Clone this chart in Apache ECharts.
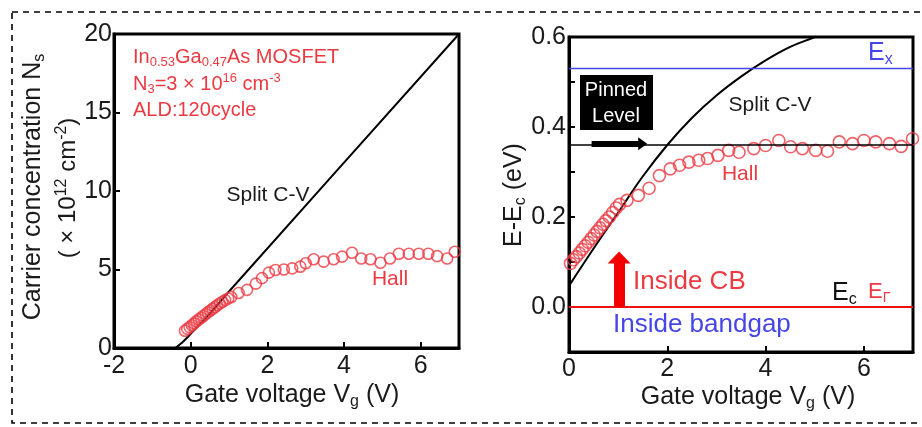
<!DOCTYPE html>
<html><head><meta charset="utf-8">
<script src="https://cdn.jsdelivr.net/npm/echarts@6/dist/echarts.min.js"></script>
<style>html,body{margin:0;padding:0;background:#fff}#c{width:922px;height:427px}</style>
</head><body><div id="c"></div>
<script>
// ---------- data ----------
const leftHallV = [-0.15,-0.09,-0.03,0.03,0.09,0.15,0.21,0.27,0.33,0.39,0.45,0.51,0.57,0.63,0.69,0.76,0.83,0.9,0.98,1.06,1.25,1.47,1.7,1.86,2.04,2.21,2.43,2.65,2.86,3.0,3.21,3.47,3.73,3.95,4.21,4.45,4.69,4.95,5.2,5.43,5.69,5.95,6.2,6.43,6.69,6.89];
const leftHallN = [1.1,1.22,1.33,1.45,1.57,1.7,1.82,1.93,2.04,2.16,2.27,2.38,2.49,2.6,2.72,2.83,2.94,3.05,3.15,3.25,3.5,3.7,4.1,4.45,4.8,4.97,5.0,5.07,5.18,5.4,5.65,5.5,5.65,5.82,6.07,5.7,5.65,5.43,5.7,6.0,6.0,6.0,6.0,5.85,5.7,6.13];
const leftCvV = [-0.4,-0.2,0,0.5,1,7];
const leftCvN = [0,0.4,0.9,2.2,3.6,20];

const rightHallV = [0.03,0.09,0.15,0.21,0.27,0.33,0.39,0.45,0.51,0.57,0.63,0.69,0.75,0.82,0.89,0.96,1.03,1.18,1.41,1.63,1.84,2.06,2.25,2.44,2.64,2.82,3.03,3.25,3.46,3.76,4.0,4.27,4.51,4.75,5.02,5.26,5.5,5.77,6.0,6.24,6.52,6.76,6.99];
const rightHallE = [0.097,0.105,0.112,0.12,0.128,0.136,0.144,0.152,0.16,0.168,0.176,0.184,0.192,0.2,0.21,0.22,0.228,0.237,0.248,0.264,0.292,0.307,0.315,0.322,0.326,0.33,0.337,0.348,0.344,0.352,0.359,0.37,0.356,0.352,0.348,0.346,0.367,0.363,0.37,0.367,0.363,0.357,0.374];
const rightCvV = [0,0.5,1,1.5,2,2.5,3,3.5,4,4.5,5,5.3];
const rightCvE = [0.047,0.13,0.21,0.29,0.36,0.42,0.47,0.512,0.548,0.578,0.6,0.615];

const levelEx = 0.53, levelPinned = 0.363, levelEc = 0.0;
const pinnedArrowV = [0.46, 1.5];       // horizontal black arrow (V) at pinned level
const cbArrowV = 1.02, cbArrowE = [0.0, 0.11]; // red upward arrow

const leftXTicks = [-2,0,2,4,6];
const leftYTicks = [0,5,10,15,20];
const rightXTicks = [0,2,4,6];
const rightYTicks = ['0.0','0.2','0.4','0.6'];

// ---------- styles ----------
const FONT = 'Liberation Sans, Arial, Helvetica, sans-serif';
const RED = '#ec3a42';
const BLUE = '#4646e6';
const INK = '#1a1a1a';
const zip = (a,b) => a.map((v,i)=>[v,b[i]]);

function axisCommon(extra){
  return Object.assign({
    type:'value',
    axisLine:{show:true,onZero:false,lineStyle:{color:'#000',width:3}},
    axisTick:{show:true,inside:true,length:6,lineStyle:{color:'#000',width:2}},
    splitLine:{show:false}
  }, extra);
}

function richText(size, color){
  return {
    a:{fontSize:size,fontFamily:FONT,fill:color,lineHeight:size+4,verticalAlign:'middle'},
    s:{fontSize:Math.round(size*0.65),fontFamily:FONT,fill:color,lineHeight:12,verticalAlign:'bottom'},
    p:{fontSize:Math.round(size*0.65),fontFamily:FONT,fill:color,lineHeight:12,verticalAlign:'top'}
  };
}
function txt(x,y,text,size,color,align,rot,weight){
  return {
    type:'text', x:x, y:y, rotation:rot||0, silent:true,
    style:{text:text, x:0, y:0, fontSize:size, fontFamily:FONT, fill:color,
      fontWeight:weight||'normal',
      textAlign:align||'center', textVerticalAlign:'middle', rich:richText(size,color)}
  };
}

const chart = echarts.init(document.getElementById('c'));
const option = {
  animation:false,
  backgroundColor:'#fff',
  grid:[
    {left:114,top:34,width:345,height:314,show:true,borderColor:'#000',borderWidth:3,backgroundColor:'transparent'},
    {left:569,top:37,width:344,height:315,show:true,borderColor:'#000',borderWidth:3,backgroundColor:'transparent'}
  ],
  xAxis:[
    axisCommon({gridIndex:0,min:-2,max:7,interval:2,
      axisLabel:{fontSize:25,color:INK,fontFamily:FONT,margin:6,
        formatter:v=>leftXTicks.includes(v)?String(v):''}}),
    axisCommon({gridIndex:1,min:0,max:7,interval:2,
      axisLabel:{fontSize:25,color:INK,fontFamily:FONT,margin:5,
        formatter:v=>rightXTicks.includes(v)?String(v):''}})
  ],
  yAxis:[
    axisCommon({gridIndex:0,min:0,max:20,interval:5,
      axisLabel:{fontSize:25,color:INK,fontFamily:FONT,margin:2,
        formatter:v=>leftYTicks.includes(v)?String(v):''}}),
    axisCommon({gridIndex:1,min:-0.1,max:0.6,interval:0.1,
      axisLabel:{fontSize:25,color:INK,fontFamily:FONT,margin:3,
        formatter:v=>{const s=(Math.round(v*10)/10).toFixed(1);return rightYTicks.includes(s)?s:'';}}})
  ],
  series:[
    {type:'line',xAxisIndex:0,yAxisIndex:0,data:zip(leftCvV,leftCvN),showSymbol:false,smooth:0.3,
      lineStyle:{color:'#000',width:2},z:3},
    {type:'scatter',xAxisIndex:0,yAxisIndex:0,data:zip(leftHallV,leftHallN),symbol:'circle',symbolSize:11,
      itemStyle:{color:'rgba(255,255,255,0)',borderColor:RED,borderWidth:1.6},z:4},
    {type:'line',xAxisIndex:1,yAxisIndex:1,data:zip(rightCvV,rightCvE),showSymbol:false,smooth:0.4,
      lineStyle:{color:'#000',width:2},z:3,
      markLine:{silent:true,symbol:'none',label:{show:false},animation:false,
        data:[
          {yAxis:levelEx,lineStyle:{color:BLUE,width:1.4,type:'solid'}},
          {yAxis:levelPinned,lineStyle:{color:'#000',width:1.6,type:'solid'}},
          {yAxis:levelEc,lineStyle:{color:'#f01010',width:1.8,type:'solid'}}
        ]}},
    {type:'line',xAxisIndex:1,yAxisIndex:1,data:[],
      markLine:{silent:true,label:{show:false},animation:false,
        data:[
          [{coord:[pinnedArrowV[0],levelPinned],symbol:'none',lineStyle:{color:'#000',width:6,type:'solid'}},
           {coord:[pinnedArrowV[1],levelPinned],symbol:'triangle',symbolSize:[13,9],itemStyle:{color:'#000'}}],
          [{coord:[cbArrowV,cbArrowE[0]],symbol:'none',lineStyle:{color:'#f40000',width:11,type:'solid'}},
           {coord:[cbArrowV,cbArrowE[1]],symbol:'triangle',symbolSize:[23,12],itemStyle:{color:'#f40000'}}]
        ]}},
    {type:'scatter',xAxisIndex:1,yAxisIndex:1,data:zip(rightHallV,rightHallE),symbol:'circle',symbolSize:12,
      itemStyle:{color:'rgba(255,255,255,0)',borderColor:RED,borderWidth:1.6},z:4}
  ],
  graphic:[
    {type:'rect',silent:true,shape:{x:12,y:12,width:940,height:411},
      style:{fill:'none',stroke:'#000',lineWidth:1.6,lineDash:[6,5]}},
    // left plot texts
    txt(33,187,'{a|Carrier concentration N}{s|s}',25,INK,'center',Math.PI/2),
    txt(68,188,'{a|( × 10}{p|12}{a| cm}{p|-2}{a|)}',24,INK,'center',Math.PI/2),
    txt(292,395,'{a|Gate voltage V}{s|g}{a| (V)}',25,INK,'center'),
    txt(133,57,'{a|In}{s|0.53}{a|Ga}{s|0.47}{a|As MOSFET}',20,RED,'left'),
    txt(133,84,'{a|N}{s|3}{a|=3 × 10}{p|16}{a| cm}{p|-3}',20,RED,'left'),
    txt(133,110,'{a|ALD:120cycle}',20,RED,'left'),
    txt(268,195,'{a|Split C-V}',21,INK,'center'),
    txt(390,279,'{a|Hall}',21,RED,'center'),
    // right plot texts
    txt(514,195,'{a|E-E}{s|c}{a| (eV)}',25,INK,'center',Math.PI/2),
    txt(748,397,'{a|Gate voltage V}{s|g}{a| (V)}',25,INK,'center'),
    {type:'rect',silent:true,shape:{x:580,y:75,width:73,height:55},style:{fill:'#000'}},
    txt(616,90,'{a|Pinned}',20,'#fff','center',0),
    txt(616,116,'{a|Level}',20,'#fff','center',0),
    txt(770,105,'{a|Split C-V}',21,INK,'center'),
    txt(740,174,'{a|Hall}',21,RED,'center'),
    txt(868,53,'{a|E}{s|x}',25,BLUE,'left'),
    txt(832,293,'{a|E}{s|c}',25,'#111','left'),
    txt(868,292,'{a|E}{s|Γ}',22,RED,'left'),
    txt(633,282,'{a|Inside CB}',26,RED,'left'),
    txt(613,325,'{a|Inside bandgap}',26,BLUE,'left')
  ]
};
chart.setOption(option);
</script>
</body></html>
